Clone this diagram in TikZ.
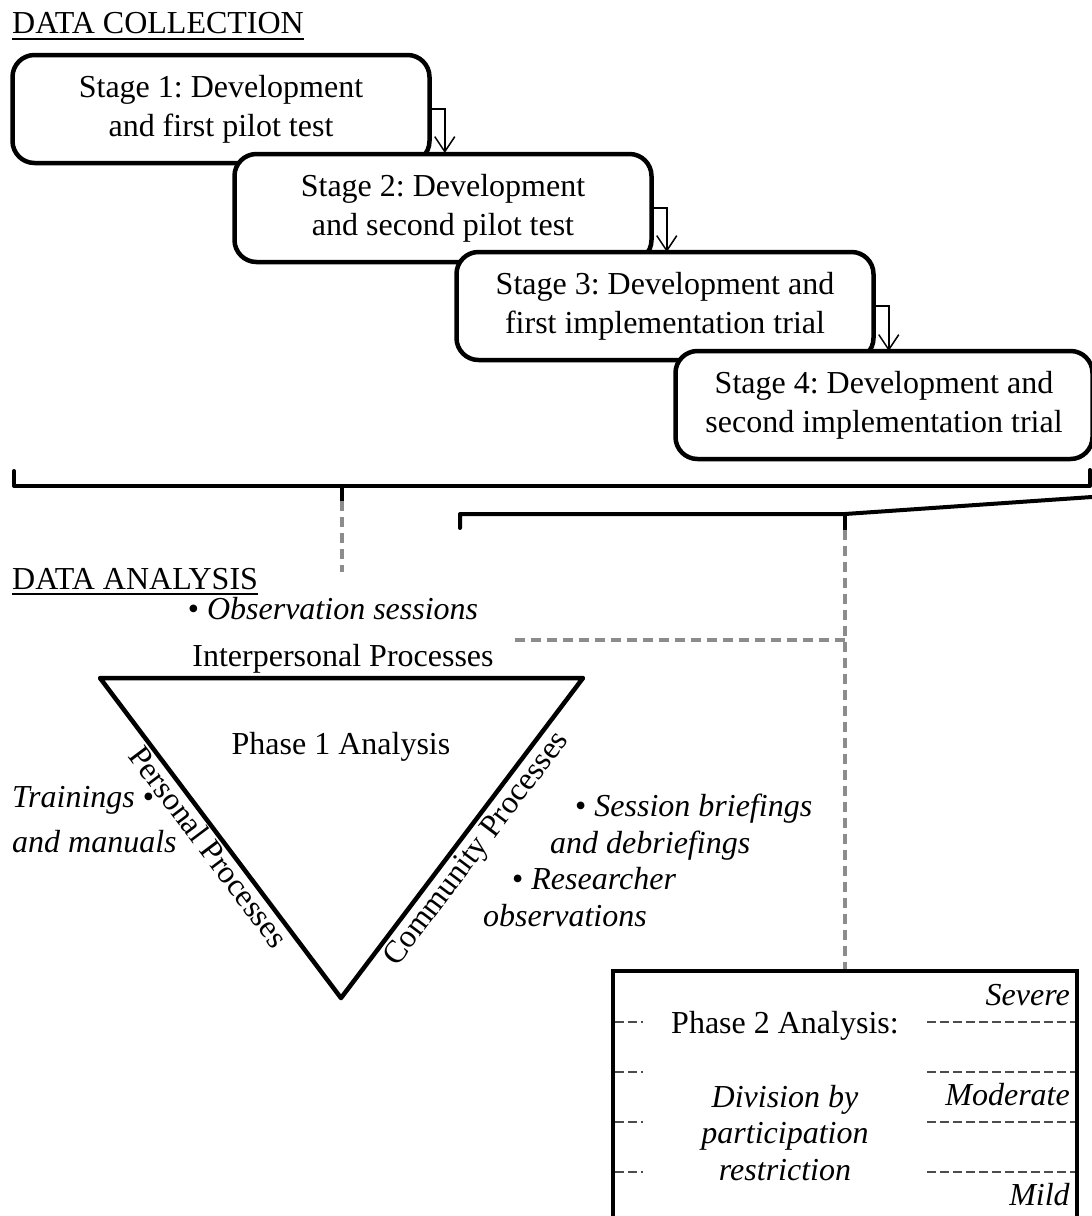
\documentclass[tikz,border=0pt]{standalone}
\usepackage{fontspec}
\setmainfont{Liberation Serif}
\usetikzlibrary{arrows.meta}
\frenchspacing
\begin{document}
\begin{tikzpicture}[x=1pt,y=-1pt,
  every node/.style={font=\fontsize{32}{39}\selectfont, inner sep=0pt},
  stagebox/.style={draw, line width=4.5pt, rounded corners=22pt, fill=white, minimum width=417pt, minimum height=108pt, align=center},
  flow/.style={line width=1.5pt, -{Straight Barb[length=15pt,width=20pt,line width=1.5pt]}},
  brace/.style={line width=4pt, line cap=round, line join=round},
  link/.style={draw=black!45, line width=3.5pt, dash pattern=on 10pt off 6pt},
  level/.style={draw=black!70, line width=1.5pt, dash pattern=on 9pt off 4pt},
  tri/.style={line width=4.5pt, line join=round},
]
\useasboundingbox (0,0) rectangle (1092,1216);

% headings
\node[anchor=base west] (dc) at (12,33) {DATA COLLECTION};
\draw[line width=2pt] ([yshift=-6pt]dc.base west) -- ([yshift=-6pt]dc.base east);
\node[anchor=base west] (da) at (12,589) {DATA ANALYSIS};
\draw[line width=2pt] ([yshift=-5pt]da.base west) -- ([yshift=-5pt]da.base east);

% stages
\node[stagebox] (s1) at (221,109) {Stage 1: Development\\and first pilot test};
\coordinate (a1) at ([xshift=13pt]s1.east);
\draw[flow] (s1.east) -- (a1) -- (a1 |- 0,153);
\node[stagebox] (s2) at (443,208) {Stage 2: Development\\and second pilot test};
\coordinate (a2) at ([xshift=13pt]s2.east);
\draw[flow] (s2.east) -- (a2) -- (a2 |- 0,252);
\node[stagebox] (s3) at (665,306) {Stage 3: Development and\\first implementation trial};
\coordinate (a3) at ([xshift=13pt]s3.east);
\draw[flow] (s3.east) -- (a3) -- (a3 |- 0,351);
\node[stagebox] (s4) at (884,405) {Stage 4: Development and\\second implementation trial};

% braces
\coordinate (bt1) at (342,501);
\coordinate (bt2) at (845,530);
\draw[brace] (14,471) -- (14,486) -- (1090,486) -- (1090,470);
\draw[brace] (342,486) -- (bt1);
\draw[brace] (460,528) -- (460,514) -- (845,514) -- (1092,497);
\draw[brace] (845,514) -- (bt2);

% analysis phase 1
\node[anchor=base] (obs) at (333,619) {• \textit{Observation sessions}};
\node[anchor=base] (ip) at (343,666) {Interpersonal Processes};
\coordinate (tA) at (100,678);
\coordinate (tB) at (583,678);
\coordinate (tC) at (341,998);
\draw[tri] (tA) -- (tB) -- (tC) -- cycle;
\node[anchor=base] (ph1) at (341,754) {Phase 1 Analysis};
\path (tA) -- node[sloped, below=3pt, pos=0.5] (pp) {Personal Processes} (tC);
\path (tC) -- node[sloped, below=5pt, pos=0.5] (cp) {Community Processes} (tB);

\node[anchor=base west] (tr1) at (12,807) {\textit{Trainings} •};
\node[anchor=base west] (tr2) at (12,852) {\textit{and manuals}};
\node[anchor=base west] (r1) at (575,816) {• \textit{Session briefings}};
\node[anchor=base west] (r2) at (550,853) {\textit{and debriefings}};
\node[anchor=base west] (r3) at (512,889) {• \textit{Researcher}};
\node[anchor=base west] (r4) at (483,926) {\textit{observations}};

% phase 2 box
\node[draw, line width=4.5pt, minimum width=464pt, minimum height=260pt] (p2) at (845,1101) {};
\foreach \yy in {1022,1072,1122,1172}{
  \draw[level] (615,\yy) -- (643,\yy);
  \draw[level] (927,\yy) -- (1075,\yy);
}
\node[anchor=base east] (sev) at (1070,1005) {\textit{Severe}};
\node[anchor=base] (ph2) at (785,1033) {Phase 2 Analysis:};
\node[anchor=base east] (mod) at (1070,1105) {\textit{Moderate}};
\node[anchor=base] (dv1) at (785,1107) {\textit{Division by}};
\node[anchor=base] (dv2) at (785,1143) {\textit{participation}};
\node[anchor=base] (dv3) at (785,1180) {\textit{restriction}};
\node[anchor=base east] (mld) at (1070,1205) {\textit{Mild}};

% grey dashed links
\draw[link] (bt1) -- (342,572);
\draw[link] (bt2) -- (p2.north);
\coordinate (lk) at (515,640);
\draw[link] (lk) -- (bt2 |- lk);
\end{tikzpicture}
\end{document}
